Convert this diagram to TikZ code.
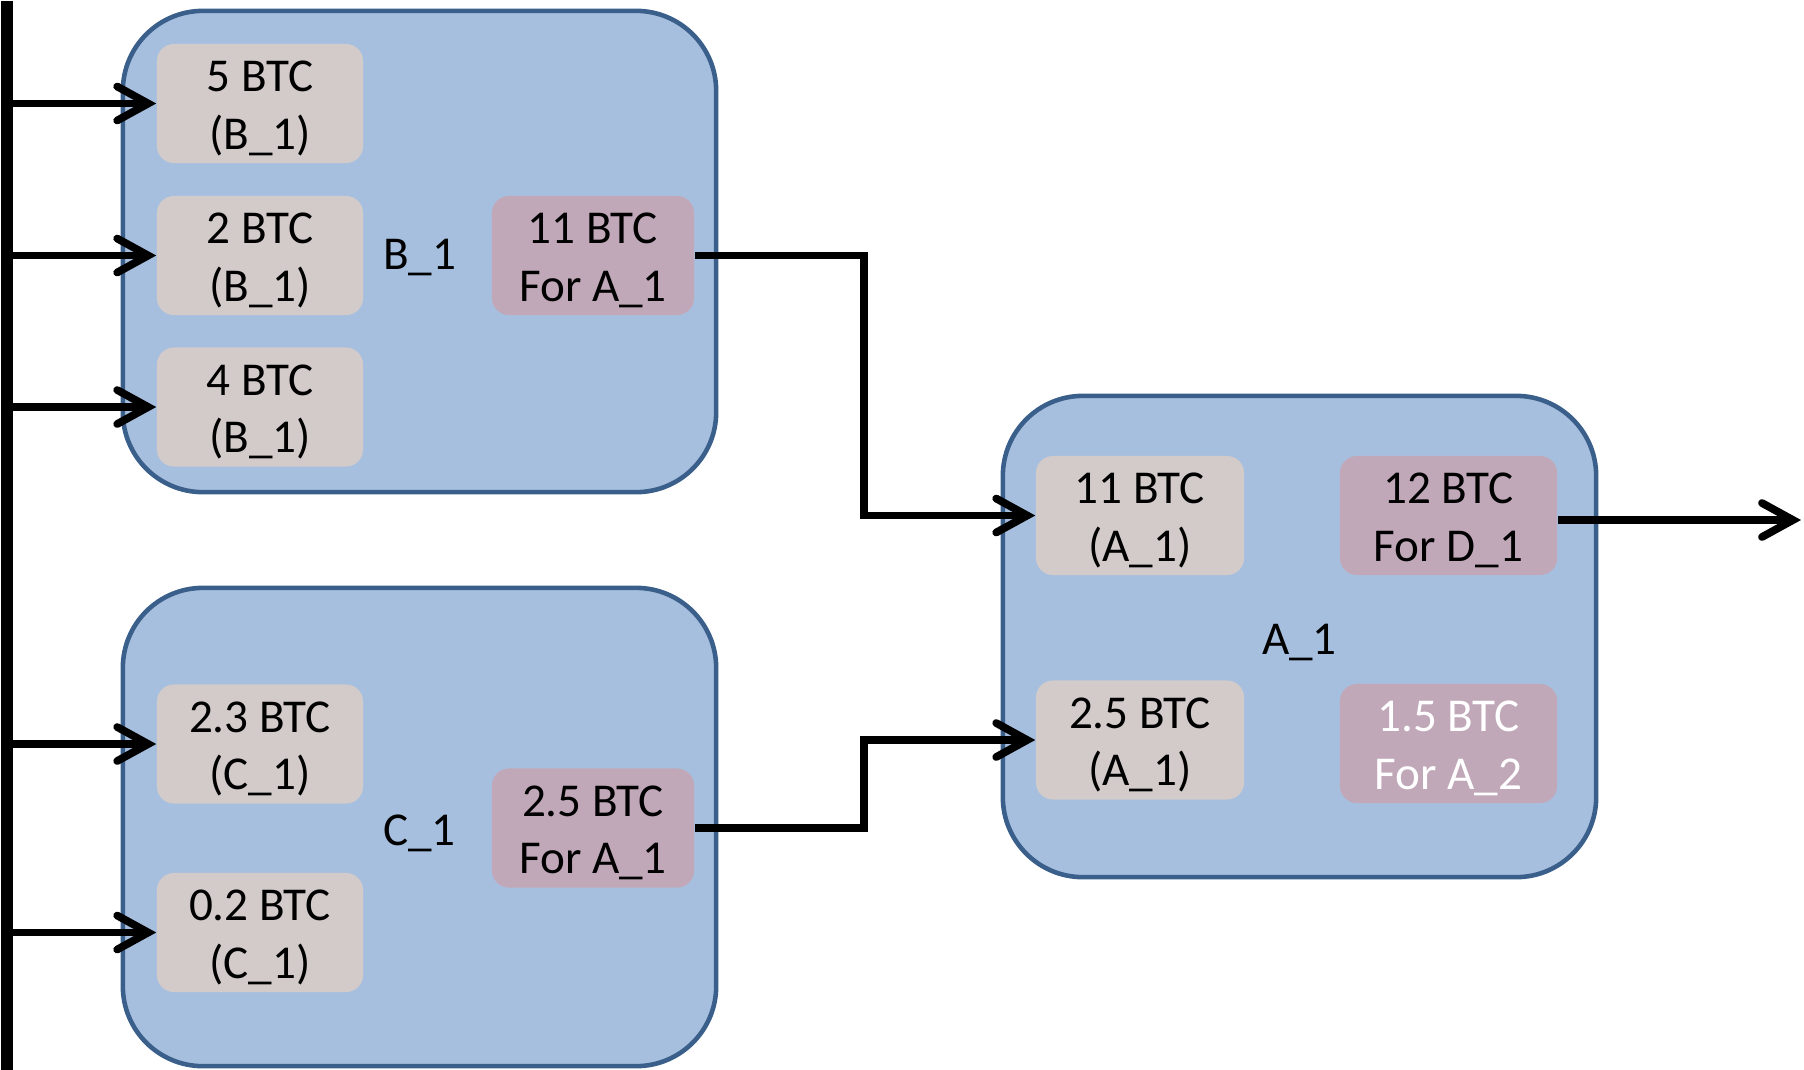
\documentclass[tikz,border=0pt]{standalone}
\usepackage{fontspec}
\setmainfont{Carlito}
\usetikzlibrary{arrows.meta}

\definecolor{txfill}{HTML}{A7BFDE}
\definecolor{txline}{HTML}{3A5F8B}
\definecolor{coingrey}{HTML}{D2CBCA}
\definecolor{coinmauve}{HTML}{C0A8B9}

\tikzset{
	tx/.style = {draw=txline, fill=txfill, line width=1.3pt, rounded corners=0.8cm,
		minimum width=5.93cm, inner sep=0pt, text height=10.4pt, text depth=0pt},
	coin/.style = {fill=coingrey, rounded corners=0.17cm, minimum width=2.06cm,
		minimum height=1.19cm, inner sep=0pt, align=center, text height=25.9pt, text depth=0pt},
	spend/.style = {coin, fill=coinmauve},
	flow/.style = {line width=2.2pt, -{Straight Barb[length=3.1mm,width=3.4mm,line cap=round]}}
}

\begin{document}
\begin{tikzpicture}[x=0.01cm, y=-0.01cm, font=\fontsize{13.4}{16.3}\selectfont]

	\useasboundingbox (0,0) rectangle (1804,1069);

	\node [fill=black, anchor=north west, minimum width=0.12cm, minimum height=10.69cm, inner sep=0pt] (bar) at (0,0) {};

	% transactions
	\node [tx, minimum height=4.81cm] (B1) at (419.5,251.5) {B\_1};
	\node [tx, minimum height=4.78cm] (C1) at (419.5,827) {C\_1};
	\node [tx, minimum height=4.81cm] (A1) at (1299.5,636.5) {A\_1};

	% B_1
	\node [coin] (b1in1) at (260,103.5) {5 BTC\\(B\_1)};
	\node [coin] (b1in2) at (260,255.5) {2 BTC\\(B\_1)};
	\node [coin] (b1in3) at (260,407) {4 BTC\\(B\_1)};
	\node [spend, minimum width=2.02cm] (b1out) at (593,255.5) {11 BTC\\For A\_1};

	% C_1
	\node [coin] (c1in1) at (260,744) {2.3 BTC\\(C\_1)};
	\node [coin] (c1in2) at (260,932.5) {0.2 BTC\\(C\_1)};
	\node [spend, minimum width=2.02cm] (c1out) at (593,828) {2.5 BTC\\For A\_1};

	% A_1
	\node [coin, minimum width=2.08cm] (a1in1) at (1140,515.5) {11 BTC\\(A\_1)};
	\node [coin, minimum width=2.08cm] (a1in2) at (1140,740) {2.5 BTC\\(A\_1)};
	\node [spend, minimum width=2.17cm] (a1out1) at (1448.5,515.5) {12 BTC\\For D\_1};
	\node [spend, minimum width=2.17cm, text=white] (a1out2) at (1448.5,743.5) {1.5 BTC\\For A\_2};

	\coordinate (D1) at (1801,520);

	\draw [flow] (b1out.east) -- ++(169,0) |- (a1in1.west);
	\draw [flow] (c1out.east) -- ++(169,0) |- (a1in2.west);
	\draw [flow] (a1out1.east |- D1) -- (D1);

	\foreach \coin in {b1in1, b1in2, b1in3, c1in1, c1in2}
		\draw [flow] (bar.east |- \coin.west) -- (\coin.west);

\end{tikzpicture}
\end{document}
